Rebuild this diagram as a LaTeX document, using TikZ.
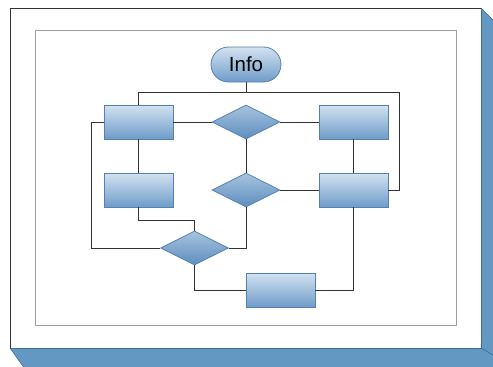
\documentclass[tikz,border=0pt]{standalone}
\usepackage{fontspec}
\setmainfont{Liberation Sans}
\usetikzlibrary{shapes.geometric,shapes.misc}
\definecolor{blueside}{HTML}{6398C3}
\definecolor{blueedge}{HTML}{3F6A93}
\definecolor{boxtop}{HTML}{D3E2F1}
\definecolor{boxbot}{HTML}{6E9CC9}
\definecolor{boxline}{HTML}{5581AE}
\definecolor{diatop}{HTML}{A7C3DF}
\definecolor{diabot}{HTML}{5E8EBE}
\definecolor{connc}{HTML}{333333}
\begin{document}
\begin{tikzpicture}[x=1pt,y=-1pt,
  box/.style={rectangle, draw=boxline, line width=0.8pt, top color=boxtop, bottom color=boxbot,
              minimum width=69pt, minimum height=34pt, inner sep=0pt},
  dia/.style={diamond, draw=boxline, line width=0.8pt, top color=diatop, bottom color=diabot,
              minimum width=68pt, minimum height=34pt, inner sep=0pt},
  term/.style={rounded rectangle, draw=boxline, line width=0.8pt, top color=boxtop, bottom color=boxbot,
              minimum width=70pt, minimum height=35pt, inner sep=0pt, font=\fontsize{20.5}{24}\selectfont},
  conn/.style={draw=connc, line width=0.9pt},
]
\useasboundingbox (0,0) rectangle (493,367);
\clip (0,0) rectangle (493,367);
% 3D frame
\fill[blueside] (481,8) -- (498,25) -- (498,390) -- (40,390) -- (10,348) -- (481,348) -- cycle;
\draw[blueedge, line width=0.6pt] (10,348) -- (40,390);
\draw[blueedge, line width=0.6pt] (481,348) -- (498,358);
\draw[blueedge, line width=0.6pt] (481,8) -- (498,25);
\fill[white] (10,8) rectangle (481,348);
\draw[connc, line width=0.7pt] (10,348) -- (10,8) -- (481,8);
\draw[blueedge, line width=0.9pt] (10,348) -- (481,348) -- (481,8);
% inner frame
\draw[gray!75, line width=0.8pt] (35,30) rectangle (456,325);
% nodes
\node[term] (info) at (246,64.5) {Info};
\node[box] (A) at (138.5,122) {};
\node[dia] (D1) at (246,122) {};
\node[box] (B) at (353.5,122) {};
\node[box] (C) at (138.5,190) {};
\node[dia] (D2) at (246,190) {};
\node[box] (E) at (353.5,190) {};
\node[dia] (D3) at (194.5,248) {};
\node[box] (F) at (280.5,290) {};
% junctions
\coordinate (j) at (246,92);
\coordinate (tr) at (399,92);
\coordinate (lw) at (91,122);
\coordinate (cm) at (138.5,220);
% connectors
\draw[conn] (info.south) -- (j);
\draw[conn] (A.north) |- (tr) |- (E.east);
\draw[conn] (A.east) -- (D1.west);
\draw[conn] (D1.east) -- (B.west);
\draw[conn] (A.west) -- (lw) |- (D3.west);
\draw[conn] (A.south) -- (C.north);
\draw[conn] (D1.south) -- (D2.north);
\draw[conn] (D2.east) -- (E.west);
\draw[conn] (B.south) -- (E.north);
\draw[conn] (C.south) -- (cm) -| (D3.north);
\draw[conn] (D2.south) |- (D3.east);
\draw[conn] (D3.south) |- (F.west);
\draw[conn] (E.south) |- (F.east);
\end{tikzpicture}
\end{document}
